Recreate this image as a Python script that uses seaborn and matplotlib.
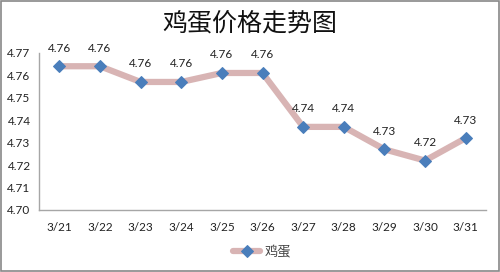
import matplotlib
matplotlib.use("Agg")
import matplotlib.pyplot as plt
import seaborn as sns
import pandas as pd
from matplotlib.patches import Rectangle

dates = ["3/21", "3/22", "3/23", "3/24", "3/25", "3/26", "3/27", "3/28", "3/29", "3/30", "3/31"]
prices = [4.764, 4.764, 4.757, 4.757, 4.761, 4.761, 4.737, 4.737, 4.727, 4.722, 4.732]
yticks = [4.70, 4.71, 4.72, 4.73, 4.74, 4.75, 4.76, 4.77]
series_name = "鸡蛋"
title = "鸡蛋价格走势图"

sns.set_style("white")
plt.rcParams["font.family"] = ["Noto Sans CJK SC", "DejaVu Sans"]

df = pd.DataFrame({"date": dates, "price": prices})

fig = plt.figure(figsize=(5.0, 2.72), dpi=100)
ax = fig.add_axes([0.078, 0.228, 0.894, 0.578])

line_color = "#D8B4B4"
marker_color = "#4A7EBB"
sns.lineplot(data=df, x="date", y="price", ax=ax, sort=False, color=line_color,
             linewidth=4.5, marker="D", markersize=6.5, markerfacecolor=marker_color,
             markeredgecolor=marker_color, label=series_name)

for i, v in enumerate(prices):
    ax.annotate(f"{v:.2f}", (i, v), xytext=(0, 9), textcoords="offset points",
                ha="center", va="bottom", fontsize=8.5, color="#222222",
                family=["Lato", "DejaVu Sans"])

ax.set_xlim(-0.5, len(dates) - 0.5)
ax.set_ylim(4.70, 4.77)
ax.set_yticks(yticks)
ax.set_yticklabels([f"{t:.2f}" for t in yticks], family=["Lato", "DejaVu Sans"], fontsize=8.5, color="#222222")
for lab in ax.get_xticklabels():
    lab.set_family(["Lato", "DejaVu Sans"])
    lab.set_fontsize(8.5)
    lab.set_color("#222222")
ax.tick_params(axis="both", length=0, pad=9)
ax.tick_params(axis="y", pad=6)
ax.set_xlabel("")
ax.set_ylabel("")
for s in ["top", "right"]:
    ax.spines[s].set_visible(False)
for s in ["left", "bottom"]:
    ax.spines[s].set_color("#A6A6A6")
    ax.spines[s].set_linewidth(1.0)

leg = ax.legend(loc="center", bbox_to_anchor=(0.5, -0.27), frameon=False, fontsize=9.5,
                handlelength=2.0, handletextpad=0.4)
for t in leg.get_texts():
    t.set_color("#444444")

fig.text(0.5, 0.915, title, ha="center", va="center", fontsize=18, color="#111111")

fig.patches.append(Rectangle((0.002, 0.004), 0.996, 0.992, transform=fig.transFigure,
                             fill=False, edgecolor="#888888", linewidth=1.2))

fig.savefig("out.png", dpi=100)
